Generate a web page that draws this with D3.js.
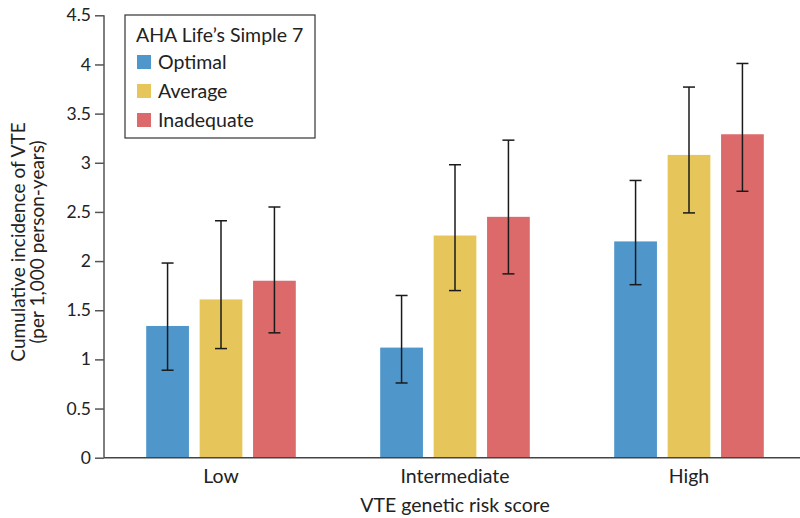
<!DOCTYPE html>
<html>
<head>
<meta charset="utf-8">
<script src="https://cdn.jsdelivr.net/npm/d3@7"></script>
<style>
  body { margin: 0; background: #fff; }
  svg { display: block; font-family: Lato, "Open Sans", sans-serif; }
</style>
</head>
<body>
<svg width="800" height="518"></svg>
<script>
var groups = ["Low", "Intermediate", "High"];
var keys = ["Optimal", "Average", "Inadequate"];
var colors = ["#4f96cb", "#e6c65a", "#dc6a6a"];
// mean incidence per group, one array per series
var optimal    = [1.34, 1.12, 2.20];
var average    = [1.61, 2.26, 3.08];
var inadequate = [1.80, 2.45, 3.29];
// lower / upper error bounds
var optimalLo    = [0.89, 0.76, 1.76];
var optimalHi    = [1.98, 1.65, 2.82];
var averageLo    = [1.11, 1.70, 2.49];
var averageHi    = [2.41, 2.98, 3.77];
var inadequateLo = [1.27, 1.87, 2.71];
var inadequateHi = [2.55, 3.23, 4.01];
var yTicks = [0, 0.5, 1, 1.5, 2, 2.5, 3, 3.5, 4, 4.5];

var values = [optimal, average, inadequate],
    lows = [optimalLo, averageLo, inadequateLo],
    highs = [optimalHi, averageHi, inadequateHi];

var data = [];
groups.forEach(function(g, i) {
  keys.forEach(function(k, j) {
    data.push({group: g, key: k, value: values[j][i], lo: lows[j][i], hi: highs[j][i], color: colors[j]});
  });
});

var svg = d3.select("svg"),
    margin = {top: 15.3, left: 104},
    height = 442.4,
    g = svg.append("g").attr("transform", "translate(" + margin.left + "," + margin.top + ")");

var x0 = d3.scaleBand().domain(groups).range([0, 702]),
    x1 = d3.scaleBand().domain(keys).range([-74.8, 74.8]).paddingInner(0.2),
    y = d3.scaleLinear().domain([0, 4.5]).range([height, 0]);

function cx(d) { return x0(d.group) + x0.bandwidth() / 2 + x1(d.key); }

// bars
g.selectAll(".bar")
  .data(data)
  .enter().append("rect")
    .attr("class", "bar")
    .attr("x", cx)
    .attr("y", function(d) { return y(d.value); })
    .attr("width", x1.bandwidth())
    .attr("height", function(d) { return y(0) - y(d.value); })
    .attr("fill", function(d) { return d.color; });

// error bars
var err = g.selectAll(".err")
  .data(data)
  .enter().append("g")
    .attr("class", "err")
    .attr("transform", function(d) { return "translate(" + (cx(d) + x1.bandwidth() / 2) + ",0)"; })
    .attr("stroke", "#1a1a1a")
    .attr("stroke-width", 1.5);
err.append("line")
    .attr("y1", function(d) { return y(d.lo); })
    .attr("y2", function(d) { return y(d.hi); });
err.append("line")
    .attr("x1", -6).attr("x2", 6)
    .attr("y1", function(d) { return y(d.lo); })
    .attr("y2", function(d) { return y(d.lo); });
err.append("line")
    .attr("x1", -6).attr("x2", 6)
    .attr("y1", function(d) { return y(d.hi); })
    .attr("y2", function(d) { return y(d.hi); });

// y axis
var yAxis = g.append("g")
    .call(d3.axisLeft(y).tickValues(yTicks).tickSize(9).tickPadding(4).tickFormat(d3.format("")));
yAxis.select(".domain").attr("d", "M0," + y(4.5) + "V" + y(0));
yAxis.selectAll("line, path").attr("stroke", "#555").attr("stroke-width", 1.5);
yAxis.selectAll("text").attr("font-size", 17.5).attr("fill", "#222").attr("font-family", "Lato, sans-serif");

// x axis
var xAxis = g.append("g")
    .attr("transform", "translate(0," + height + ")")
    .call(d3.axisBottom(x0).tickSize(0).tickPadding(11));
xAxis.select(".domain").attr("d", "M0,0H700").attr("stroke", "#444").attr("stroke-width", 1.5);
xAxis.selectAll("text").attr("font-size", 19.5).attr("fill", "#222").attr("font-family", "Lato, sans-serif");

// axis titles
svg.append("text")
    .attr("x", 455).attr("y", 512)
    .attr("text-anchor", "middle")
    .attr("font-size", 19.5).attr("fill", "#222")
    .text("VTE genetic risk score");

var yt = svg.append("text")
    .attr("transform", "translate(0,242) rotate(-90)")
    .attr("text-anchor", "middle")
    .attr("font-size", 19).attr("fill", "#222");
yt.append("tspan").attr("x", 0).attr("y", 25).text("Cumulative incidence of VTE");
yt.append("tspan").attr("x", 0).attr("y", 44).text("(per 1,000 person-years)");

// legend
var legend = svg.append("g").attr("transform", "translate(125,15)");
legend.append("rect")
    .attr("width", 190).attr("height", 123)
    .attr("fill", "#fff").attr("stroke", "#333").attr("stroke-width", 1.2);
legend.append("text")
    .attr("x", 11).attr("y", 27)
    .attr("font-size", 19.5).attr("fill", "#222")
    .text("AHA Life\u2019s Simple 7");
var item = legend.selectAll(".item")
  .data(keys)
  .enter().append("g")
    .attr("class", "item")
    .attr("transform", function(d, i) { return "translate(12," + (40 + i * 29) + ")"; });
item.append("rect")
    .attr("width", 14).attr("height", 14)
    .attr("fill", function(d, i) { return colors[i]; });
item.append("text")
    .attr("x", 21).attr("y", 14)
    .attr("font-size", 19.5).attr("fill", "#222")
    .text(function(d) { return d; });
</script>
</body>
</html>
